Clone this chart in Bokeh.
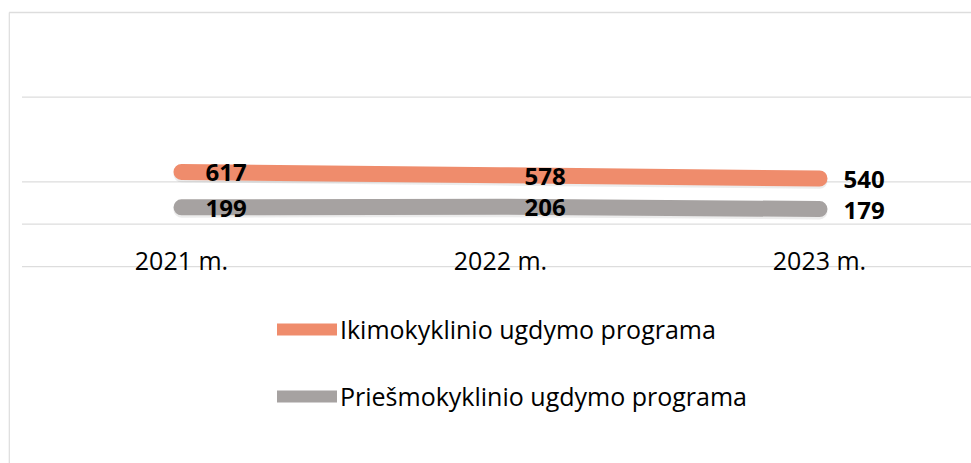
from bokeh.plotting import figure
from bokeh.models import Range1d, Legend, LegendItem
from bokeh.core.properties import value
from bokeh.embed import file_html
from bokeh.resources import INLINE

# ---- data ----
years = ["2021 m.", "2022 m.", "2023 m."]
ikimokyklinio = [617, 578, 540]
priesmokyklinio = [199, 206, 179]
series_names = ["Ikimokyklinio ugdymo programa", "Priešmokyklinio ugdymo programa"]
grid_values = [-500, 0, 500, 1500]
top_value = 2500

ORANGE = "#EF8C6C"
GREY = "#A6A2A1"
GRID = "#DDDDDD"
FONT = "Open Sans"

xs = list(range(len(years)))

p = figure(width=971, height=463, output_backend="svg", toolbar_location=None,
           x_range=Range1d(-0.5423, 2.4765), y_range=Range1d(-2826, 2547),
           min_border=0, min_border_left=8, min_border_top=8,
           outline_line_color=None)
p.xaxis.visible = False
p.yaxis.visible = False
p.xgrid.visible = False
p.ygrid.visible = False
p.background_fill_color = "white"
p.border_fill_color = "white"

# gridlines
x_end = p.x_range.end + 0.1
p.segment(x0=[-0.5] * len(grid_values), x1=[x_end] * len(grid_values),
          y0=grid_values, y1=grid_values, line_color=GRID, line_width=1.3)
# chart border (top and left)
x_left = p.x_range.start + 0.002
p.segment(x0=[x_left], x1=[x_end], y0=[top_value], y1=[top_value], line_color=GRID, line_width=1.5)
p.segment(x0=[x_left], x1=[x_left], y0=[top_value], y1=[p.y_range.start], line_color=GRID, line_width=1.5)

# shadows
shadow = 28
p.line(xs, [v - shadow for v in ikimokyklinio], line_width=16, line_color="#888888", line_alpha=0.16, line_cap="round")
p.line(xs, [v - shadow for v in priesmokyklinio], line_width=16, line_color="#888888", line_alpha=0.16, line_cap="round")

# legend renderers (thinner, hidden beneath the main lines)
leg_o = p.line(xs, ikimokyklinio, line_width=12, line_color=ORANGE, line_cap="round")
leg_g = p.line(xs, priesmokyklinio, line_width=12, line_color=GREY, line_cap="round")

# main lines
p.line(xs, ikimokyklinio, line_width=16, line_color=ORANGE, line_cap="round", line_join="round")
p.line(xs, priesmokyklinio, line_width=16, line_color=GREY, line_cap="round", line_join="round")

# data labels
for vals in (ikimokyklinio, priesmokyklinio):
    p.text(x=xs, y=vals, text=[str(v) for v in vals], text_font=value(FONT),
           text_font_size="24px", text_font_style="bold", text_color="black",
           text_align="left", text_baseline="middle", x_offset=24, y_offset=1)

# category labels
p.text(x=xs, y=[grid_values[0]] * len(xs), text=years, text_font=value(FONT),
       text_font_size="25px", text_color="black", text_align="center",
       text_baseline="middle", y_offset=-7)

# legend
legend = Legend(items=[LegendItem(label=series_names[0], renderers=[leg_o]),
                       LegendItem(label=series_names[1], renderers=[leg_g])],
                location=(269, 50), orientation="vertical",
                glyph_width=60, glyph_height=34, label_height=34, spacing=33,
                label_standoff=3, padding=0, margin=0,
                border_line_alpha=0, background_fill_alpha=0,
                label_text_font=FONT, label_text_font_size="25px", label_text_color="black")
p.add_layout(legend, "center")

open("out.html", "w").write(file_html(p, INLINE))
